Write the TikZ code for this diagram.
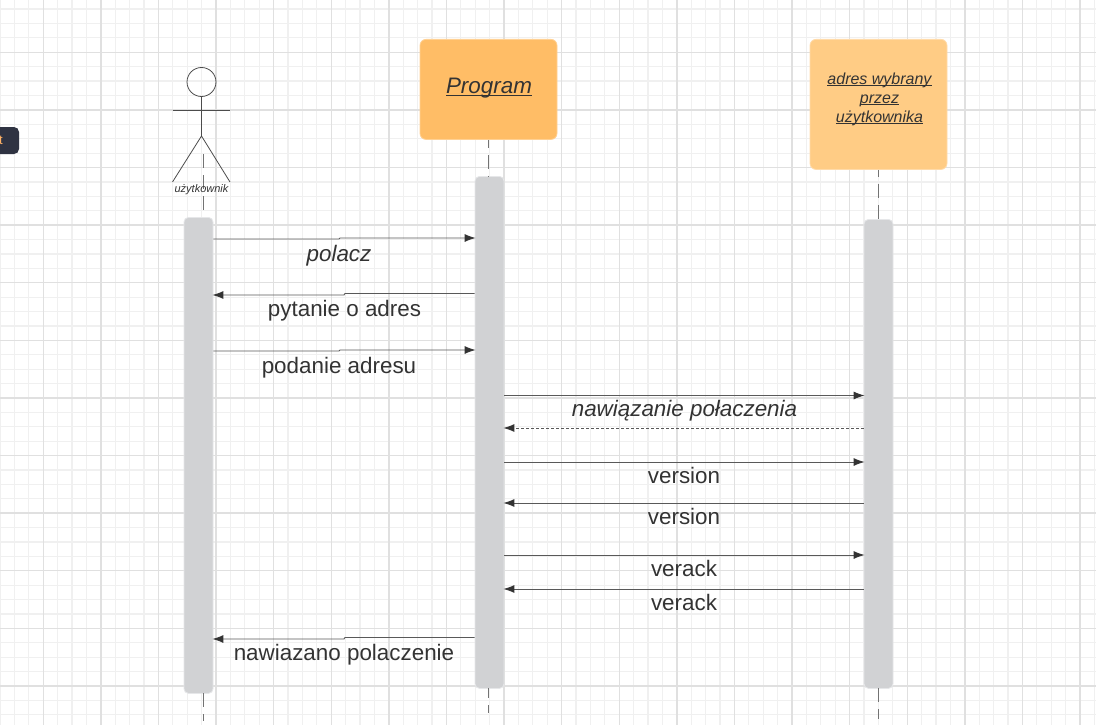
\documentclass[tikz,border=0pt]{standalone}
\usepackage{fontspec}
\setmainfont{Liberation Sans}
\usetikzlibrary{arrows.meta,shapes.geometric}
\definecolor{txt}{HTML}{333333}
\definecolor{gridmaj}{HTML}{E0E0E0}
\definecolor{gridmin}{HTML}{F0F0F0}
\definecolor{barfill}{HTML}{D1D2D4}
\definecolor{barline}{HTML}{E6E7E9}
\definecolor{progfill}{HTML}{FFBD66}
\definecolor{addrfill}{HTML}{FFCC85}
\definecolor{tipfill}{HTML}{2F3342}
\newcommand{\ulin}[1]{\underline{\smash{#1}}}
\tikzset{
  x=1pt,y=-1pt,
  bar/.style={draw=barline,line width=0.8pt,fill=barfill,rounded corners=4.5pt,minimum width=29pt,inner sep=0pt,anchor=north},
  head/.style={draw=#1!70!white,line width=0.8pt,fill=#1,rounded corners=6pt,minimum width=137pt,inner sep=0pt,anchor=north},
  life/.style={draw=black!55,line width=1pt,dash pattern=on 14pt off 7pt},
  msg/.style={draw=black!65,line width=0.9pt,shorten >=-1pt,-{Latex[length=11pt,width=8pt,color=txt]}},
  reply/.style={msg,dash pattern=on 2.5pt off 2.5pt},
  lab/.style={text=txt,font=\fontsize{22.4}{26}\selectfont,anchor=base,inner sep=0pt},
  figure/.style={draw=black!70,line width=0.8pt},
}
\begin{document}
\begin{tikzpicture}
\useasboundingbox (0,0) rectangle (1096,725);
\fill[white] (0,0) rectangle (1096,725);
% grid
\foreach \i in {0,...,76} \draw[gridmin,line width=1.2pt] ({14.4*\i},0) -- ++(0,725);
\foreach \i in {0,...,50} \draw[gridmin,line width=1.2pt] (0,{9.1+14.4*\i}) -- ++(1096,0);
\foreach \i in {0,...,18} \draw[gridmaj,line width=1.3pt] ({43.3+57.6*\i},0) -- ++(0,725);
\foreach \i in {-1,...,12} \draw[gridmaj,line width=1.3pt] (0,{52.3+57.6*\i}) -- ++(1096,0);
% tooltip
\node[fill=tipfill,rounded corners=5pt,minimum width=34pt,minimum height=27pt,inner sep=0pt] (tip) at (2,140.5) {};
\node[text=orange!60!white,font=\fontsize{13}{15}\selectfont,inner sep=0pt] (tiptext) at (1,140.5) {t};
% heads
\node[head=progfill,minimum height=100pt] (prog) at (488.5,39) {};
\node[text=txt,font=\fontsize{22.4}{26}\selectfont\itshape,inner sep=0pt,anchor=base] (progt) at (489,94) {\ulin{Program}};
\node[head=addrfill,minimum height=130pt] (addr) at (878.5,39) {};
\node[text=txt,font=\fontsize{16}{19}\selectfont\itshape,inner sep=0pt,align=center,anchor=center] (addrt) at (879.5,104) {\ulin{adres wybrany}\\\ulin{przez}\\\ulin{użytkownika}};
% activation bars
\node[bar,minimum height=476pt] (ubar) at (198.5,217) {};
\node[bar,minimum height=512pt] (pbar) at (489.5,176) {};
\node[bar,minimum height=469pt] (abar) at (878.5,219) {};
% lifelines
\coordinate (ua) at (203.5,154);
\coordinate (uc) at (203.5,217);
\coordinate (ud) at (203.5,693);
\coordinate (ub) at (203.5,721);
\coordinate (pc) at (488.5,176);
\coordinate (pd) at (488.5,688);
\coordinate (pb) at (488.5,713);
\coordinate (ac) at (878.5,219);
\coordinate (ad) at (878.5,688);
\coordinate (ab) at (878.5,719);
\draw[life] (ua) -- (uc);
\draw[life] (ud) -- (ub);
\draw[life,dash phase=6pt] (prog.south) -- (pc);
\draw[life,dash phase=4pt] (pd) -- (pb);
\draw[life,dash phase=7pt] (addr.south) -- (ac);
\draw[life] (ad) -- (ab);
% actor
\node[circle,figure,minimum size=29pt,inner sep=0pt,fill=none] (ahead) at (201.5,82) {};
\coordinate (ahip) at (201.5,136);
\coordinate (aarmL) at (172.5,110.5);
\coordinate (aarmR) at (230,110.5);
\coordinate (alegL) at (172.5,182);
\coordinate (alegR) at (230,182);
\draw[figure] (ahead) -- (ahip);
\draw[figure] (aarmL) -- (aarmR);
\draw[figure] (alegL) -- (ahip) -- (alegR);
\node[text=txt,font=\fontsize{11}{13}\selectfont\itshape,inner sep=0pt,anchor=base] (alabel) at (201.5,192) {użytkownik};
% messages
\coordinate (m1a) at (ubar.east |- 0,239);
\coordinate (m1b) at (pbar.west |- 0,238);
\draw[msg] (m1a) -- (339,239) -- (340,238) -- (m1b);
\node[lab,font=\fontsize{22.4}{26}\selectfont\itshape] (l1) at (339,261) {polacz};
\coordinate (m2a) at (pbar.west |- 0,293.5);
\coordinate (m2b) at (ubar.east |- 0,295);
\draw[msg] (m2a) -- (345,293.5) -- (344,295) -- (m2b);
\node[lab] (l2) at (344.5,316) {pytanie o adres};
\coordinate (m3a) at (ubar.east |- 0,351);
\coordinate (m3b) at (pbar.west |- 0,350);
\draw[msg] (m3a) -- (339,351) -- (340,350) -- (m3b);
\node[lab] (l3) at (339,373) {podanie adresu};
\coordinate (m4a) at (pbar.east |- 0,395.5);
\coordinate (m4b) at (abar.west |- 0,395.5);
\draw[msg] (m4a) -- (m4b);
\node[lab,font=\fontsize{22.4}{26}\selectfont\itshape] (l4) at (684.5,416) {nawiązanie połaczenia};
\coordinate (m5a) at (abar.west |- 0,428);
\coordinate (m5b) at (pbar.east |- 0,428);
\draw[reply] (m5a) -- (m5b);
\coordinate (m6a) at (pbar.east |- 0,462);
\coordinate (m6b) at (abar.west |- 0,462);
\draw[msg] (m6a) -- (m6b);
\node[lab] (l6) at (684,483) {version};
\coordinate (m7a) at (abar.west |- 0,503);
\coordinate (m7b) at (pbar.east |- 0,503);
\draw[msg] (m7a) -- (m7b);
\node[lab] (l7) at (684,524) {version};
\coordinate (m8a) at (pbar.east |- 0,555);
\coordinate (m8b) at (abar.west |- 0,555);
\draw[msg] (m8a) -- (m8b);
\node[lab] (l8) at (684,576) {verack};
\coordinate (m9a) at (abar.west |- 0,589);
\coordinate (m9b) at (pbar.east |- 0,589);
\draw[msg] (m9a) -- (m9b);
\node[lab] (l9) at (684,610) {verack};
\coordinate (m10a) at (pbar.west |- 0,637.5);
\coordinate (m10b) at (ubar.east |- 0,639);
\draw[msg] (m10a) -- (345,637.5) -- (344,639) -- (m10b);
\node[lab] (l10) at (344,660) {nawiazano polaczenie};
\end{tikzpicture}
\end{document}
